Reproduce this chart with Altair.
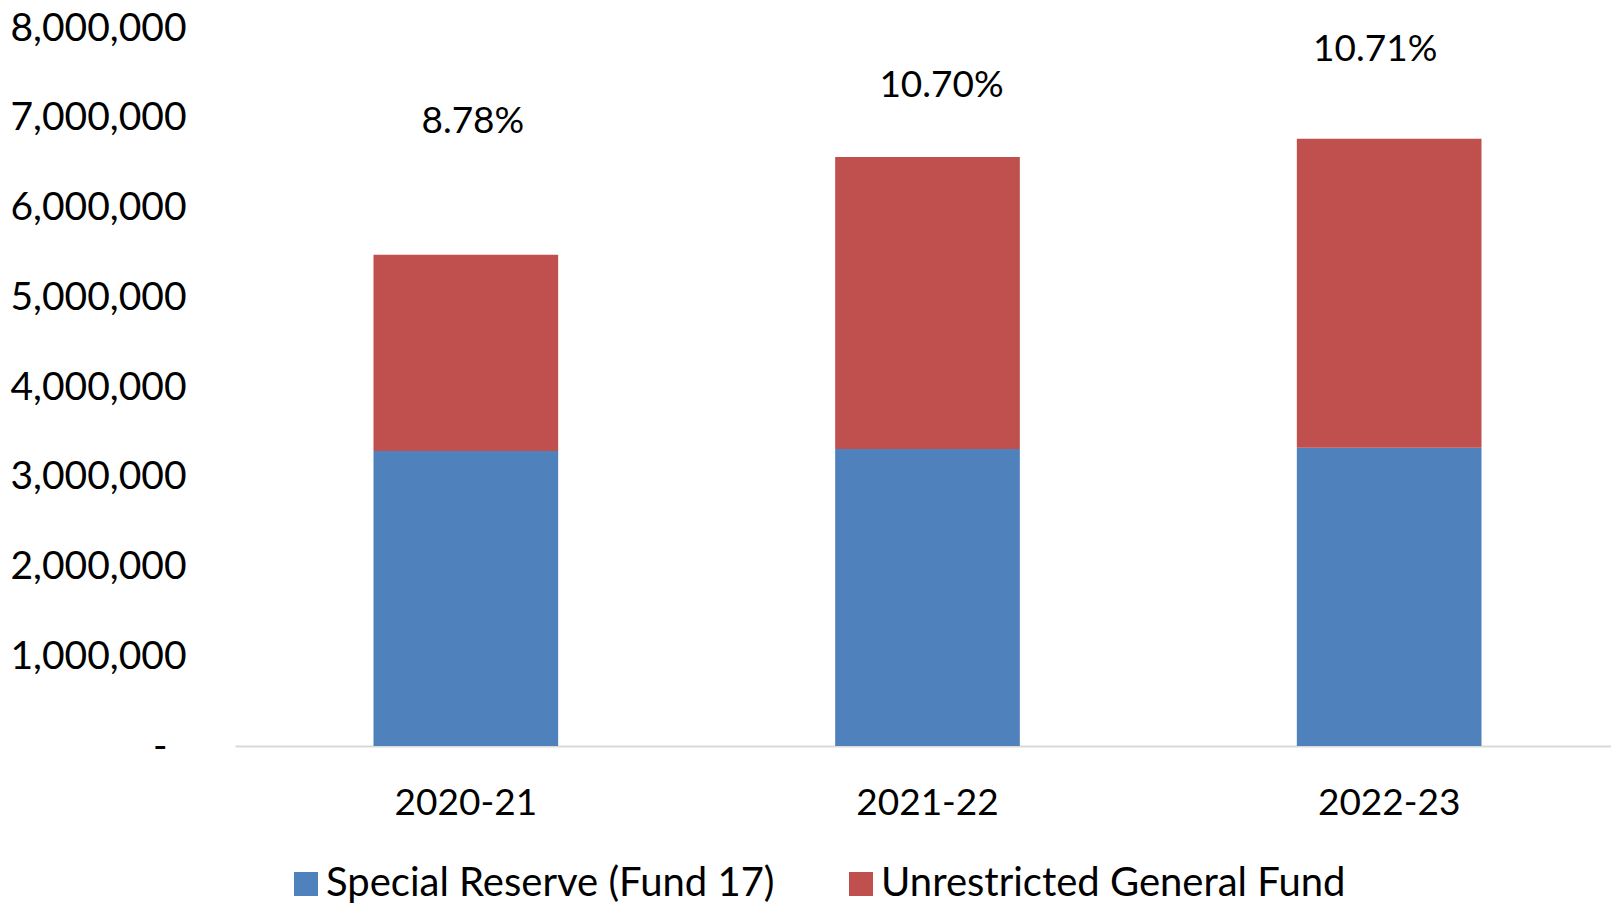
import altair as alt
import pandas as pd

# ---- data ----
years = ["2020-21", "2021-22", "2022-23"]
series_names = ["Special Reserve (Fund 17)", "Unrestricted General Fund"]
special_reserve = [3288000, 3310000, 3324000]
unrestricted_general = [2185000, 3253000, 3443000]
pct_labels = ["8.78%", "10.70%", "10.71%"]
pct_label_value = [6949000, 7356000, 7756000]   # y level (data units) of each % label

colors = ["#4F81BD", "#C0504D"]
label_dx = [7, 14, -14]  # small horizontal nudges of the % labels (style)

rows = []
for i, yr in enumerate(years):
    rows.append({"year": yr, "series": series_names[0], "value": special_reserve[i], "ord": 0})
    rows.append({"year": yr, "series": series_names[1], "value": unrestricted_general[i], "ord": 1})
df = pd.DataFrame(rows)

lab_df = pd.DataFrame({"year": years, "label": pct_labels, "pos": pct_label_value})

x_enc = alt.X(
    "year:N",
    sort=years,
    title=None,
    scale=alt.Scale(range=[0, 1385], paddingInner=0.6, paddingOuter=0.3),
    axis=alt.Axis(
        labelAngle=0,
        labelFont="Lato",
        labelFontSize=37,
        labelColor="#000000",
        labelPadding=57,
        labelBaseline="middle",
        ticks=False,
        tickSize=0,
        domainColor="#d9d9d9",
        domainWidth=2,
        grid=False,
    ),
)

y_scale = alt.Scale(domain=[0, 8000000], nice=False)

bars = alt.Chart(df).mark_bar(strokeWidth=0).encode(
    x=x_enc,
    y=alt.Y(
        "value:Q",
        stack="zero",
        scale=y_scale,
        title=None,
        axis=alt.Axis(
            values=[0, 1000000, 2000000, 3000000, 4000000, 5000000, 6000000, 7000000, 8000000],
            labelExpr='datum.value == 0 ? "-" : format(datum.value, ",")',
            labelFont="Lato",
            labelFontSize=39,
            labelColor="#000000",
            labelPadding={"condition": {"test": "datum.value == 0", "value": 68}, "value": 49},
            labelOverlap=False,
            labelBound=False,
            labelFlush=False,
            ticks=False,
            tickSize=0,
            domain=False,
            grid=False,
        ),
    ),
    color=alt.Color(
        "series:N",
        scale=alt.Scale(domain=series_names, range=colors),
        sort=series_names,
        legend=alt.Legend(
            orient="none",
            legendX=51,
            legendY=836,
            direction="horizontal",
            title=None,
            symbolType="square",
            symbolSize=576,
            symbolStrokeWidth=0,
            symbolOpacity=1,
            labelFont="Lato",
            labelFontSize=40,
            labelColor="#000000",
            labelOffset=0,
            columnPadding=66,
            labelLimit=1000,
        ),
    ),
    order=alt.Order("ord:Q", sort="ascending"),
)

layers = [bars]
for i, yr in enumerate(years):
    t = alt.Chart(lab_df[lab_df["year"] == yr]).mark_text(
        font="Lato", fontSize=37, color="#000000", baseline="middle", align="center", dx=label_dx[i]
    ).encode(
        x=alt.X("year:N", sort=years),
        y=alt.Y("pos:Q", scale=y_scale),
        text="label:N",
    )
    layers.append(t)

chart = alt.layer(*layers).properties(
    width=1376,
    height=718,
    autosize=alt.AutoSizeParams(type="none"),
    padding={"left": 227, "top": 20, "right": 0, "bottom": 157},
    background="white",
).configure_view(stroke=None)

chart.save("out.html", embed_options={"renderer": "svg", "actions": False})
